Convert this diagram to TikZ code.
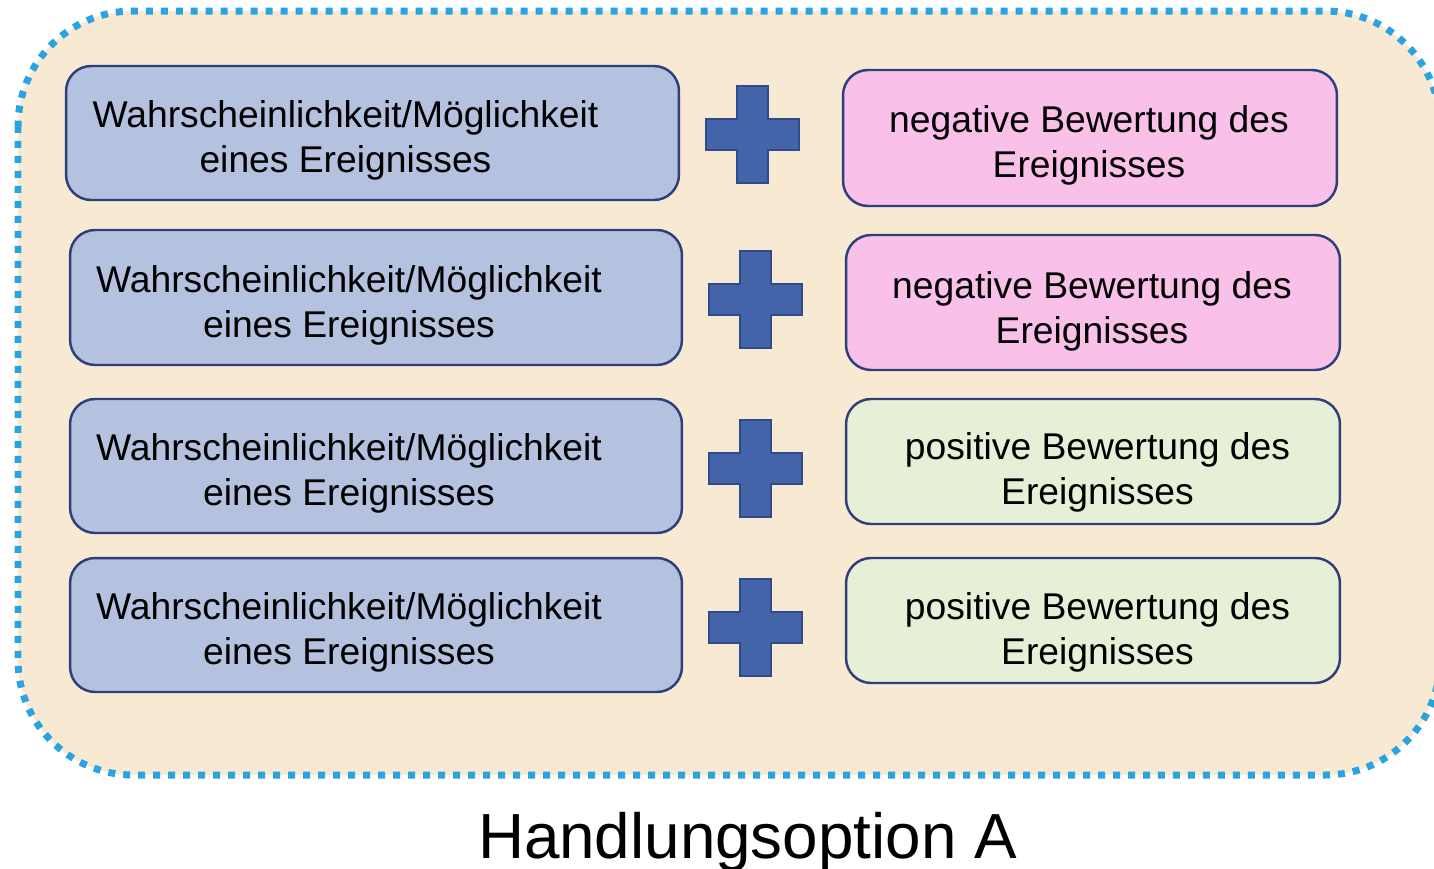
\documentclass[tikz,border=0pt]{standalone}
\usepackage{fontspec}
\setmainfont{Liberation Sans}

\definecolor{optfill}{HTML}{F8E9D2}
\definecolor{optdots}{HTML}{29A3E1}
\definecolor{probfill}{HTML}{B4C2E0}
\definecolor{boxline}{HTML}{2F3F7C}
\definecolor{negfill}{HTML}{F9C0E9}
\definecolor{posfill}{HTML}{E6F0D6}
\definecolor{plusfill}{HTML}{4565AB}
\definecolor{plusline}{HTML}{2F4B8A}

\tikzset{
  evbox/.style={draw=boxline, line width=1.4pt, rounded corners=0.5cm, inner sep=0pt},
  probbox/.style={evbox, fill=probfill, minimum width=12.24cm, minimum height=2.68cm},
  negbox/.style={evbox, fill=negfill, minimum width=9.88cm, minimum height=2.70cm},
  posbox/.style={evbox, fill=posfill, minimum width=9.88cm, minimum height=2.50cm},
  evtext/.style={align=center, font=\fontsize{21.2}{25.5}\selectfont, inner sep=0pt},
  plussign/.style={draw=plusline, fill=plusfill, line width=1.2pt},
}

\begin{document}
\begin{tikzpicture}[x=0.02cm, y=-0.02cm]
  \useasboundingbox (0,0) rectangle (1434,869);

  % Option frame (dotted)
  \draw[optdots, fill=optfill, line width=0.14cm, dash pattern=on 0.14cm off 0.16cm,
        rounded corners=2.3cm] (18,11) rectangle (1440,775);

  % Probability boxes (left)
  \node[probbox, minimum width=12.26cm] (p1) at (372.5,133) {};
  \node[probbox, minimum height=2.70cm] (p2) at (376,297.5) {};
  \node[probbox] (p3) at (376,466) {};
  \node[probbox] (p4) at (376,625) {};
  \node[evtext] (p1t) at (345.5,140) {Wahrscheinlichkeit/Möglichkeit\\eines Ereignisses};
  \node[evtext] (p2t) at (349,305) {Wahrscheinlichkeit/Möglichkeit\\eines Ereignisses};
  \node[evtext] (p3t) at (349,473) {Wahrscheinlichkeit/Möglichkeit\\eines Ereignisses};
  \node[evtext] (p4t) at (349,632) {Wahrscheinlichkeit/Möglichkeit\\eines Ereignisses};

  % Evaluation boxes (right): negative, then positive
  \node[negbox, minimum height=2.72cm] (e1) at (1090,138) {};
  \node[negbox] (e2) at (1093,302.5) {};
  \node[posbox] (e3) at (1093,461.5) {};
  \node[posbox] (e4) at (1093,620.5) {};
  \node[evtext] (e1t) at (1089,145) {negative Bewertung des\\Ereignisses};
  \node[evtext] (e2t) at (1092,311) {negative Bewertung des\\Ereignisses};
  \node[evtext] (e3t) at (1097.5,472) {positive Bewertung des\\Ereignisses};
  \node[evtext] (e4t) at (1097.5,632) {positive Bewertung des\\Ereignisses};

  % Plus signs
  \foreach \cx/\cy in {752.5/134.5, 755.5/299.5, 755.5/468.5, 755.5/627.5}
    \draw[plussign] (\cx-15.5,\cy-48.5) -- ++(31,0) -- ++(0,33) -- ++(31,0) -- ++(0,31)
      -- ++(-31,0) -- ++(0,33) -- ++(-31,0) -- ++(0,-33) -- ++(-31,0) -- ++(0,-31)
      -- ++(31,0) -- cycle;

  % Caption
  \node[font=\fontsize{36.3}{43}\selectfont, anchor=base, inner sep=0pt] (title) at (747.5,858) {Handlungsoption A};
\end{tikzpicture}
\end{document}
